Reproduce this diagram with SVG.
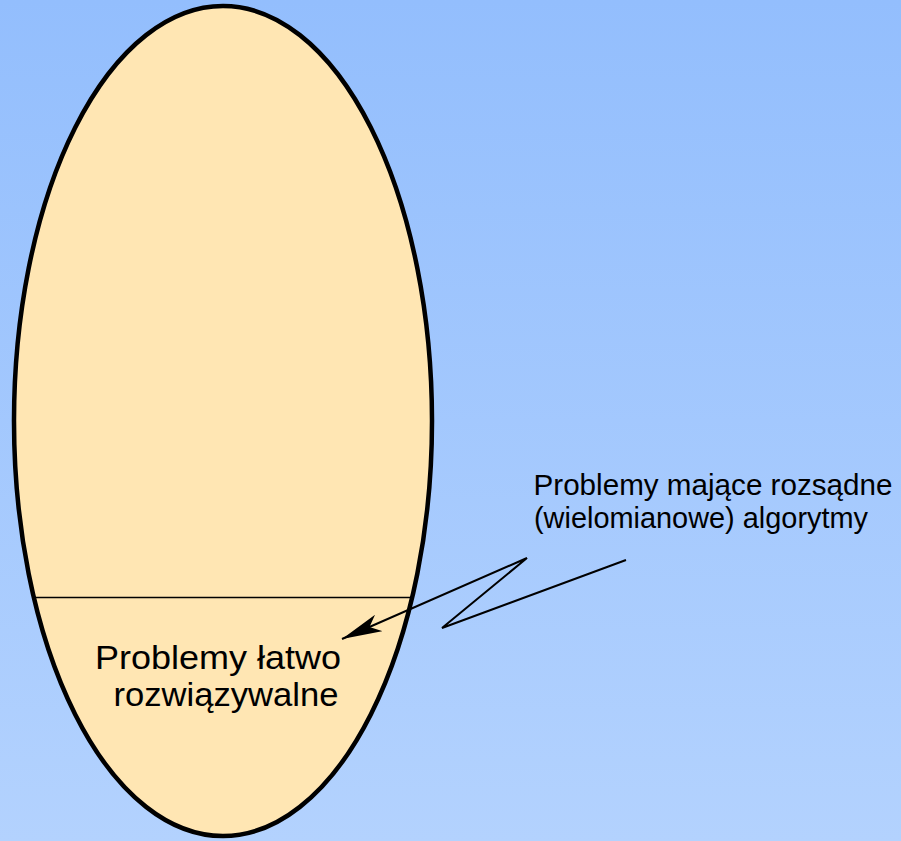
<svg xmlns="http://www.w3.org/2000/svg" width="901" height="841" viewBox="0 0 901 841">
  <defs>
    <linearGradient id="bg" x1="0" y1="0" x2="0" y2="1">
      <stop offset="0" stop-color="#93befd"/>
      <stop offset="1" stop-color="#b3d2fe"/>
    </linearGradient>
    <marker id="arrow" markerUnits="userSpaceOnUse" markerWidth="44" markerHeight="22" refX="40" refY="9" orient="auto" viewBox="0 0 44 22">
      <path d="M40,9 L0,0 L10,9 L0,18 Z" fill="#000"/>
    </marker>
  </defs>
  <style>
    .label { font-family: "Liberation Sans", Arial, sans-serif; fill: #000; }
    .conn { fill: none; stroke: #000; stroke-width: 2; stroke-linejoin: miter; }
  </style>

  <rect x="0" y="0" width="901" height="841" fill="url(#bg)"/>

  <g id="set-reasonable">
    <ellipse cx="223" cy="421" rx="209" ry="415" fill="#ffe6b3" stroke="#000" stroke-width="4.5"/>
    <line x1="33" y1="597.5" x2="412" y2="597.5" stroke="#000" stroke-width="1.6"/>
  </g>

  <g id="set-easy">
    <text class="label" font-size="33" lengthAdjust="spacingAndGlyphs" x="95" y="669" textLength="246">Problemy łatwo</text>
    <text class="label" font-size="33" lengthAdjust="spacingAndGlyphs" x="113.5" y="706" textLength="225">rozwiązywalne</text>
  </g>

  <g id="label-polynomial">
    <text class="label" font-size="29.5" lengthAdjust="spacingAndGlyphs" x="533.5" y="495" textLength="359">Problemy mające rozsądne</text>
    <text class="label" font-size="29.5" lengthAdjust="spacingAndGlyphs" x="534" y="528" textLength="334">(wielomianowe) algorytmy</text>
  </g>

  <g id="connectors">
    <polyline class="conn" points="626,560 442,628 527,558 342,639" marker-end="url(#arrow)"/>
  </g>
</svg>
